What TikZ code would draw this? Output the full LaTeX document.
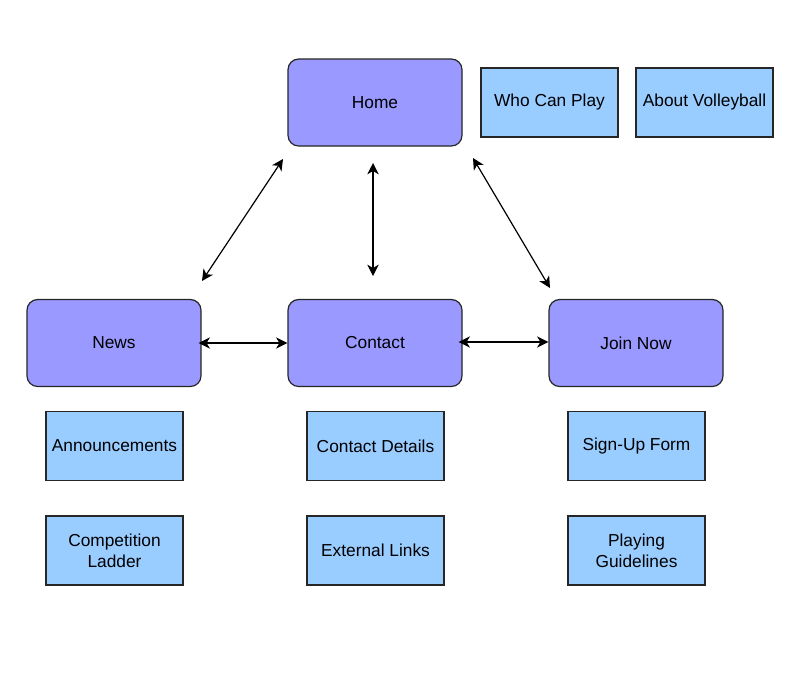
\documentclass[tikz,border=0pt]{standalone}
\usepackage{fontspec}
\setmainfont{Liberation Sans}
\usetikzlibrary{arrows.meta}
\definecolor{mainfill}{HTML}{9999FF}
\definecolor{subfill}{HTML}{99CCFF}
\begin{document}
\begin{tikzpicture}[x=0.75pt,y=-0.75pt,
  mainbox/.style={draw=black!85, fill=mainfill, line width=0.9pt, rounded corners=8pt,
    minimum width=174*0.75pt, minimum height=87*0.75pt, inner sep=0pt, font=\fontsize{13}{15.75}\selectfont},
  subbox/.style={draw=black!85, fill=subfill, line width=0.9pt,
    minimum width=137*0.75pt, minimum height=69*0.75pt, inner sep=0pt, align=center,
    font=\fontsize{13}{15.75}\selectfont},
  link/.style={line width=0.9pt, {Stealth[length=8.5pt,width=8.5pt,inset=2.5pt]}-{Stealth[length=8.5pt,width=8.5pt,inset=2.5pt]}}]
\useasboundingbox (0,0) rectangle (785,679);
\node[mainbox] (home) at (375,102.5) {Home};
\node[subbox] (who) at (549.5,102.5) {Who Can Play};
\node[subbox] (about) at (704.5,102.5) {About Volleyball};
\node[mainbox] (news) at (114,343) {News};
\node[mainbox] (contact) at (375,343) {Contact};
\node[mainbox] (join) at (636,343) {Join Now};
\node[subbox] (ann) at (114.5,446) {Announcements};
\node[subbox] (cdet) at (375.5,446) {Contact Details};
\node[subbox] (sign) at (636.5,446) {Sign-Up Form};
\node[subbox] (ladder) at (114.5,550.5) {Competition\\Ladder};
\node[subbox] (ext) at (375.5,550.5) {External Links};
\node[subbox] (guide) at (636.5,550.5) {Playing\\Guidelines};
\coordinate (nh1) at (202,281);
\coordinate (nh2) at (283,159);
\coordinate (hc1) at (373,163);
\coordinate (hc2) at (373,276);
\coordinate (hj1) at (473,158);
\coordinate (hj2) at (550,288);
\draw[link] (nh1) -- (nh2);
\draw[link] (hc1) -- (hc2);
\draw[link] (hj1) -- (hj2);
\draw[link] ([xshift=-3*0.75pt]news.east) -- (contact.west);
\draw[link] ([xshift=-4*0.75pt,yshift=1*0.75pt]contact.east) -- ([yshift=1*0.75pt]join.west);
\end{tikzpicture}
\end{document}
